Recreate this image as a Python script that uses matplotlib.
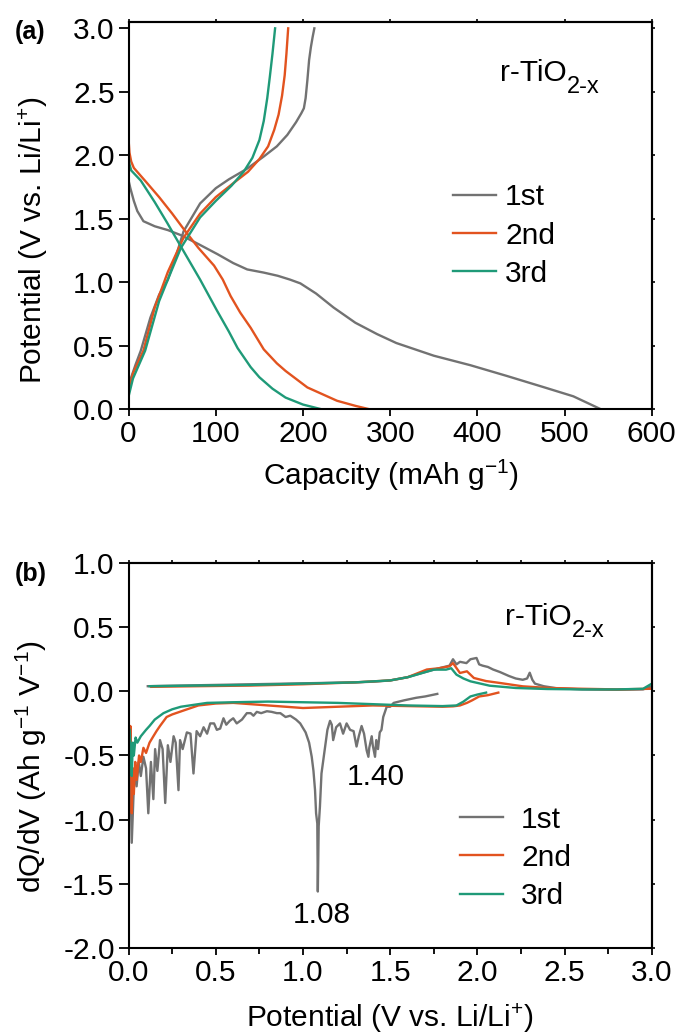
import matplotlib
matplotlib.use("Agg")
import matplotlib.pyplot as plt
from matplotlib.ticker import MultipleLocator

plt.rcParams['font.family'] = ['Liberation Sans', 'DejaVu Sans']
plt.rcParams['mathtext.fontset'] = 'custom'
plt.rcParams['mathtext.rm'] = 'Liberation Sans'
plt.rcParams['mathtext.it'] = 'Liberation Sans'
plt.rcParams['axes.unicode_minus'] = False

# ---------------- data: panel (a) capacity vs potential ----------------
cycles = ['1st', '2nd', '3rd']
colors = ['#727272', '#E2531F', '#1F9A78']

dis1_cap = [0, 2, 6, 10, 17, 30, 45, 60, 80, 102, 120, 136, 155, 171, 185, 197, 215, 235,
            260, 285, 307, 350, 392, 434, 477, 510, 541]
dis1_v = [1.80, 1.74, 1.64, 1.56, 1.48, 1.44, 1.41, 1.37, 1.30, 1.22, 1.15, 1.10, 1.075, 1.05,
          1.02, 0.99, 0.91, 0.80, 0.68, 0.59, 0.52, 0.42, 0.345, 0.26, 0.17, 0.10, 0.0]
chg1_cap = [0, 3, 8, 14, 25, 35, 45, 55, 63, 82, 100, 115, 135, 155, 170, 182, 192, 198,
            201, 203, 205, 207, 209, 211, 213]
chg1_v = [0.16, 0.25, 0.35, 0.46, 0.72, 0.90, 1.02, 1.22, 1.40, 1.62, 1.74, 1.81, 1.89, 1.99,
          2.07, 2.16, 2.26, 2.33, 2.37, 2.45, 2.59, 2.75, 2.85, 2.93, 3.0]

dis2_cap = [0, 1, 3, 6, 20, 35, 50, 63, 80, 98, 108, 117, 128, 140, 155, 170, 180, 205, 239,
            260, 275]
dis2_v = [2.12, 2.02, 1.95, 1.90, 1.79, 1.67, 1.54, 1.42, 1.27, 1.13, 1.02, 0.89, 0.76, 0.64,
          0.47, 0.36, 0.30, 0.17, 0.065, 0.025, 0.0]
chg2_cap = [0, 5, 17, 30, 45, 63, 82, 100, 122, 137, 150, 160, 167, 172, 176, 179, 181, 183]
chg2_v = [0.14, 0.28, 0.46, 0.80, 1.08, 1.35, 1.54, 1.67, 1.79, 1.87, 1.97, 2.07, 2.20, 2.32,
          2.47, 2.63, 2.80, 3.0]

dis3_cap = [0, 1, 3, 14, 30, 44, 60, 82, 101, 115, 125, 140, 150, 165, 180, 200, 220]
dis3_v = [2.00, 1.93, 1.88, 1.80, 1.63, 1.47, 1.28, 1.02, 0.78, 0.61, 0.48, 0.33, 0.25, 0.16,
          0.09, 0.035, 0.0]
chg3_cap = [0, 5, 19, 35, 45, 60, 82, 100, 118, 132, 142, 150, 155, 159, 162, 165, 168]
chg3_v = [0.10, 0.24, 0.46, 0.85, 1.02, 1.27, 1.51, 1.64, 1.76, 1.87, 1.98, 2.12, 2.27, 2.45,
          2.62, 2.80, 3.0]

# ---------------- data: panel (b) dQ/dV vs potential ----------------
d1_v = [1.77, 1.70, 1.65, 1.58, 1.52, 1.50, 1.48, 1.46, 1.45, 1.44, 1.43, 1.42, 1.413, 1.40,
        1.394, 1.38, 1.375, 1.365, 1.35, 1.336, 1.32, 1.307, 1.29, 1.27, 1.25, 1.23, 1.212,
        1.19, 1.173, 1.165, 1.155, 1.14, 1.125, 1.106, 1.097, 1.090, 1.085, 1.082, 1.075,
        1.069, 1.060, 1.050, 1.035, 1.015, 0.984, 0.96, 0.927, 0.90, 0.87, 0.85, 0.82, 0.793,
        0.76, 0.735, 0.716, 0.70, 0.678, 0.65, 0.62, 0.60, 0.58, 0.56, 0.544, 0.525, 0.506,
        0.49, 0.468, 0.45, 0.43, 0.41, 0.39, 0.372, 0.355, 0.334, 0.31, 0.295, 0.286, 0.27,
        0.258, 0.24, 0.225, 0.21, 0.195, 0.18, 0.165, 0.152, 0.142, 0.128, 0.113, 0.10,
        0.085, 0.07, 0.058, 0.046, 0.035, 0.027, 0.018, 0.012, 0.006]
d1_q = [-0.02, -0.04, -0.05, -0.07, -0.09, -0.12, -0.12, -0.20, -0.30, -0.32, -0.45, -0.38,
        -0.51, -0.42, -0.35, -0.44, -0.51, -0.46, -0.33, -0.27, -0.35, -0.43, -0.31, -0.30,
        -0.25, -0.33, -0.25, -0.28, -0.38, -0.26, -0.23, -0.30, -0.45, -0.64, -0.90, -1.05,
        -1.56, -1.03, -0.95, -0.77, -0.62, -0.51, -0.40, -0.32, -0.25, -0.22, -0.19, -0.20,
        -0.17, -0.17, -0.16, -0.155, -0.17, -0.16, -0.19, -0.17, -0.17, -0.22, -0.25, -0.21,
        -0.23, -0.26, -0.21, -0.29, -0.30, -0.25, -0.25, -0.33, -0.28, -0.35, -0.31, -0.64,
        -0.33, -0.32, -0.45, -0.38, -0.77, -0.40, -0.35, -0.55, -0.42, -0.87, -0.45, -0.38,
        -0.62, -0.45, -0.84, -0.55, -0.95, -0.60, -0.51, -0.66, -0.55, -0.74, -0.60, -0.85,
        -1.18, -0.77, -0.55]
c1_v = [0.11, 0.3, 0.5, 0.7, 0.9, 1.1, 1.3, 1.4, 1.5, 1.6, 1.7, 1.78, 1.84, 1.86, 1.88, 1.9,
        1.937, 1.96, 1.995, 2.01, 2.03, 2.06, 2.09, 2.13, 2.18, 2.22, 2.26, 2.285, 2.30, 2.315,
        2.33, 2.38, 2.45, 2.6, 2.8, 2.95, 3.0]
c1_q = [0.04, 0.045, 0.05, 0.055, 0.06, 0.065, 0.07, 0.075, 0.085, 0.11, 0.15, 0.18, 0.20,
        0.25, 0.21, 0.23, 0.22, 0.25, 0.26, 0.21, 0.20, 0.19, 0.17, 0.15, 0.12, 0.10, 0.09,
        0.10, 0.145, 0.09, 0.06, 0.04, 0.025, 0.015, 0.012, 0.015, 0.04]

d2_v = [2.12, 2.06, 2.01, 1.97, 1.94, 1.90, 1.86, 1.80, 1.6, 1.4, 1.2, 1.0, 0.8, 0.6, 0.5,
        0.4, 0.314, 0.25, 0.218, 0.18, 0.16, 0.142, 0.12, 0.10, 0.085, 0.07, 0.06, 0.046,
        0.038, 0.03, 0.024, 0.018, 0.014, 0.01, 0.006]
d2_q = [-0.01, -0.03, -0.04, -0.07, -0.09, -0.11, -0.117, -0.12, -0.115, -0.11, -0.12, -0.13,
        -0.11, -0.09, -0.095, -0.11, -0.15, -0.18, -0.20, -0.27, -0.31, -0.35, -0.40, -0.48,
        -0.44, -0.55, -0.50, -0.69, -0.55, -0.80, -0.60, -0.95, -0.45, -0.27, -0.50]
c2_v = [0.13, 0.4, 0.7, 1.0, 1.3, 1.5, 1.6, 1.71, 1.78, 1.84, 1.86, 1.90, 1.94, 1.98, 2.05,
        2.13, 2.26, 2.41, 2.6, 2.8, 3.0]
c2_q = [0.035, 0.04, 0.045, 0.055, 0.07, 0.085, 0.11, 0.17, 0.18, 0.195, 0.22, 0.143, 0.156,
        0.104, 0.08, 0.065, 0.039, 0.026, 0.02, 0.015, 0.02]

d3_v = [2.05, 2.0, 1.96, 1.92, 1.88, 1.8, 1.6, 1.4, 1.2, 1.0, 0.8, 0.6, 0.45, 0.35, 0.3, 0.25,
        0.2, 0.15, 0.12, 0.10, 0.07, 0.05, 0.04, 0.03, 0.024, 0.018, 0.012, 0.006]
d3_q = [-0.01, -0.025, -0.04, -0.08, -0.11, -0.115, -0.11, -0.10, -0.09, -0.085, -0.08,
        -0.085, -0.09, -0.11, -0.12, -0.14, -0.17, -0.22, -0.27, -0.30, -0.35, -0.40, -0.36,
        -0.50, -0.40, -0.66, -0.45, -0.30]
c3_v = [0.12, 0.4, 0.7, 1.0, 1.3, 1.5, 1.6, 1.75, 1.82, 1.85, 1.88, 1.92, 1.96, 2.07, 2.22,
        2.4, 2.6, 2.8, 2.95, 3.0]
c3_q = [0.04, 0.045, 0.05, 0.06, 0.07, 0.085, 0.11, 0.169, 0.169, 0.18, 0.13, 0.10, 0.078,
        0.044, 0.026, 0.018, 0.015, 0.015, 0.02, 0.06]

peak_labels = ['1.08', '1.40']
peak_label_pos = [(1.11, -1.74), (1.42, -0.67)]

# ---------------- figure ----------------
W, H = 683, 1036
fig = plt.figure(figsize=(W / 100, H / 100), dpi=100)

def ax_rect(x0, x1, ytop, ybot):
    return [x0 / W, 1 - ybot / H, (x1 - x0) / W, (ybot - ytop) / H]

axA = fig.add_axes(ax_rect(128.6, 651.8, 22, 409))
axB = fig.add_axes(ax_rect(128.6, 651.8, 563, 948))

FS = 21.5
LW = 1.7

def style(ax):
    for s in ax.spines.values():
        s.set_linewidth(1.5)
    ax.tick_params(which='both', direction='out', width=1.3, labelsize=FS, pad=3)
    ax.tick_params(which='major', length=5)
    ax.tick_params(which='minor', length=4)
    ax.tick_params(axis='y', which='major', length=7)

# panel (a)
a_data = [(dis1_cap, dis1_v, chg1_cap, chg1_v),
          (dis2_cap, dis2_v, chg2_cap, chg2_v),
          (dis3_cap, dis3_v, chg3_cap, chg3_v)]
for (dc, dv, cc, cv), lab, col in zip(a_data, cycles, colors):
    axA.plot(dc, dv, color=col, lw=LW, label=lab)
    axA.plot(cc, cv, color=col, lw=LW)
axA.set_xlim(0, 600)
axA.set_ylim(0, 3.05)
axA.xaxis.set_major_locator(MultipleLocator(100))
axA.yaxis.set_major_locator(MultipleLocator(0.5))
axA.yaxis.set_major_formatter(plt.FormatStrFormatter('%.1f'))
style(axA)
axA.set_xlabel('Capacity (mAh g$\\mathregular{^{-1}}$)', fontsize=FS)
axA.set_ylabel('Potential (V vs. Li/Li$\\mathregular{^{+}}$)', fontsize=FS)
axA.xaxis.set_label_coords(0.5015, -0.125)
axA.yaxis.set_label_coords(-0.150, 0.437)
secA_x = axA.secondary_xaxis('top')
secA_x.xaxis.set_major_locator(MultipleLocator(100))
secA_x.tick_params(direction='out', length=2.5, width=1.2, labeltop=False)
secA_y = axA.secondary_yaxis('right')
secA_y.yaxis.set_major_locator(MultipleLocator(0.5))
secA_y.tick_params(direction='out', length=2.5, width=1.2, labelright=False)
for s in list(secA_x.spines.values()) + list(secA_y.spines.values()):
    s.set_linewidth(1.5)

legA = axA.legend(loc='center left', bbox_to_anchor=(0.62, 0.448), frameon=False,
                  fontsize=FS, handlelength=1.45, handletextpad=0.3, labelspacing=0.34,
                  borderpad=0, borderaxespad=0)
tA = axA.text(0.710, 0.848, 'r-TiO', transform=axA.transAxes, fontsize=21.5,
              ha='left', va='baseline')
axA.annotate('2-x', xy=(1.0, 0.0), xycoords=tA, fontsize=17, ha='left', va='center')
fig.text(15 / W, 1 - 32 / H, '(a)', fontsize=18, fontweight='bold', ha='left', va='center')

# panel (b)
b_data = [(d1_v, d1_q, c1_v, c1_q),
          (d2_v, d2_q, c2_v, c2_q),
          (d3_v, d3_q, c3_v, c3_q)]
for (dv, dq, cv, cq), lab, col in zip(b_data, cycles, colors):
    axB.plot(dv, dq, color=col, lw=LW, label=lab)
    axB.plot(cv, cq, color=col, lw=LW)
axB.set_xlim(0, 3.0)
axB.set_ylim(-2.0, 1.0)
axB.xaxis.set_major_locator(MultipleLocator(0.5))
axB.xaxis.set_minor_locator(MultipleLocator(0.25))
axB.yaxis.set_major_locator(MultipleLocator(0.5))
axB.xaxis.set_major_formatter(plt.FormatStrFormatter('%.1f'))
axB.yaxis.set_major_formatter(plt.FormatStrFormatter('%.1f'))
style(axB)
axB.set_xlabel('Potential (V vs. Li/Li$\\mathregular{^{+}}$)', fontsize=FS)
axB.set_ylabel('dQ/dV (Ah g$\\mathregular{^{-1}}$ V$\\mathregular{^{-1}}$)', fontsize=FS)
axB.xaxis.set_label_coords(0.5, -0.138)
axB.yaxis.set_label_coords(-0.152, 0.47)
secB_x = axB.secondary_xaxis('top')
secB_x.xaxis.set_major_locator(MultipleLocator(0.25))
secB_x.tick_params(direction='out', length=2.5, width=1.2, labeltop=False)
secB_y = axB.secondary_yaxis('right')
secB_y.yaxis.set_major_locator(MultipleLocator(0.5))
secB_y.tick_params(direction='out', length=2.5, width=1.2, labelright=False)
for s in list(secB_x.spines.values()) + list(secB_y.spines.values()):
    s.set_linewidth(1.5)

for txt, (px, py) in zip(peak_labels, peak_label_pos):
    axB.text(px, py, txt, fontsize=FS, ha='center', va='center')

legB = axB.legend(loc='center left', bbox_to_anchor=(0.633, 0.234), frameon=False,
                  fontsize=FS, handlelength=1.45, handletextpad=0.6, labelspacing=0.34,
                  borderpad=0, borderaxespad=0)
tB = axB.text(0.72, 0.84, 'r-TiO', transform=axB.transAxes, fontsize=21.5,
              ha='left', va='baseline')
axB.annotate('2-x', xy=(1.0, 0.0), xycoords=tB, fontsize=17, ha='left', va='center')
fig.text(15 / W, 1 - 574 / H, '(b)', fontsize=18, fontweight='bold', ha='left', va='center')

fig.savefig('out.png', dpi=100)
